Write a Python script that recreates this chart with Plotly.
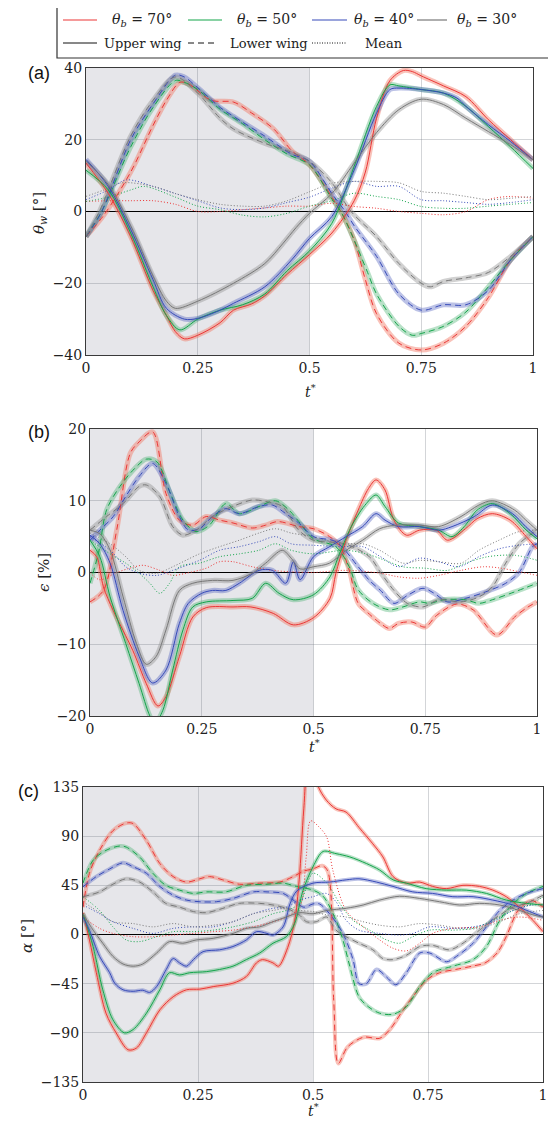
import plotly.graph_objects as go

# page body has an 8px margin: draw at offset, figure slightly smaller than window
OFF = 8
W, H = 540, 1110

# ---------------- data: panel (a)  theta_w [deg] ----------------
a_up_red = [(0,13.5),(0.05,5),(0.1,-7),(0.15,-22),(0.18,-29),(0.2,-33.5),(0.22,-35.5),(0.25,-34.5),(0.3,-31),(0.33,-27.5),(0.37,-25.8),(0.4,-23.5),(0.45,-17.5),(0.5,-12),(0.55,-6),(0.6,3),(0.625,11),(0.65,26),(0.68,36.5),(0.71,39.3),(0.73,39),(0.75,37.8),(0.8,35),(0.85,32),(0.9,25.6),(0.95,20),(1,14.4)]
a_up_green = [(0,11.5),(0.05,6),(0.1,-6),(0.15,-21),(0.18,-29),(0.21,-33),(0.25,-30),(0.3,-27.5),(0.35,-26),(0.4,-23),(0.45,-16.5),(0.5,-11),(0.55,-3.3),(0.6,12.6),(0.65,29.3),(0.68,35.3),(0.7,35),(0.75,34),(0.8,33),(0.85,29.3),(0.9,23.7),(0.95,18),(1,12)]
a_up_blue = [(0,14.5),(0.05,7),(0.1,-5),(0.15,-19),(0.18,-27),(0.22,-30),(0.25,-29.8),(0.3,-27.5),(0.33,-25.6),(0.4,-21),(0.46,-13.5),(0.5,-7.5),(0.55,-1.4),(0.6,11.6),(0.65,27.4),(0.68,34),(0.7,34.4),(0.75,34),(0.8,33),(0.83,31.6),(0.85,29.3),(0.9,24.2),(0.95,19.5),(1,14.4)]
a_up_grey = [(0,14),(0.05,7.5),(0.1,-4),(0.15,-18),(0.18,-25),(0.2,-27),(0.25,-25),(0.33,-20),(0.4,-14.5),(0.44,-9),(0.47,-4.5),(0.5,-0.5),(0.55,5),(0.6,13.5),(0.65,22),(0.7,28.4),(0.75,31.3),(0.8,29.8),(0.85,26),(0.9,22.3),(0.95,18.6),(1,14.4)]

a_lo_red = [(0,-7),(0.04,-1),(0.1,11),(0.15,24),(0.18,31),(0.21,36),(0.23,35.5),(0.28,31),(0.33,30.5),(0.37,27.5),(0.42,23),(0.46,17),(0.5,13),(0.55,4),(0.58,-2.3),(0.6,-8),(0.625,-19),(0.65,-28.5),(0.7,-36.7),(0.75,-38.6),(0.8,-36.7),(0.85,-32),(0.9,-24),(0.95,-13.5),(1,-7)]
a_lo_green = [(0,-7),(0.035,0),(0.1,18),(0.15,29),(0.2,36.5),(0.22,36),(0.25,34),(0.3,28.5),(0.35,24.5),(0.4,20),(0.45,16),(0.5,13),(0.55,3.5),(0.57,0),(0.6,-8),(0.63,-17),(0.65,-23),(0.7,-32),(0.73,-34.5),(0.75,-34),(0.8,-32),(0.85,-28),(0.9,-21),(0.95,-13.5),(1,-7)]
a_lo_blue = [(0,-7),(0.035,0),(0.1,20),(0.15,30),(0.2,38),(0.22,37.5),(0.25,34.5),(0.3,29),(0.33,26.5),(0.4,21),(0.46,16),(0.5,14),(0.55,5),(0.58,0),(0.6,-4),(0.65,-12.5),(0.7,-23),(0.75,-27.5),(0.8,-26),(0.85,-26),(0.9,-22),(0.95,-13.5),(1,-7)]
a_lo_grey = [(0,-7),(0.03,0),(0.1,21),(0.15,31),(0.2,37.5),(0.25,33),(0.3,26),(0.33,23),(0.4,19),(0.45,17),(0.5,14),(0.55,8),(0.593,0),(0.65,-7),(0.7,-14.5),(0.75,-20),(0.77,-21),(0.8,-19.5),(0.85,-18.5),(0.9,-17),(0.95,-12.5),(1,-7)]

a_mean_red = [(0,2.8),(0.05,3),(0.1,3),(0.15,3),(0.2,2),(0.25,0),(0.3,0),(0.35,0.5),(0.4,1),(0.45,1.5),(0.5,1.5),(0.55,2.3),(0.6,1.4),(0.65,0.9),(0.7,0),(0.75,-0.5),(0.8,-0.9),(0.85,0),(0.9,3.3),(0.95,4.2),(1,3.7)]
a_mean_green = [(0,2.8),(0.05,4),(0.1,6),(0.13,7),(0.2,4),(0.25,1.5),(0.3,0.5),(0.35,-1),(0.4,-1.5),(0.45,-0.5),(0.5,1.5),(0.55,3),(0.6,5.1),(0.65,4.2),(0.7,3.3),(0.75,1.4),(0.8,0.9),(0.85,0.9),(0.9,1.5),(0.95,2),(1,2.5)]
a_mean_blue = [(0,3.3),(0.05,6),(0.09,8.8),(0.15,7),(0.2,5),(0.25,3),(0.3,1),(0.35,0.5),(0.4,1),(0.45,2.5),(0.5,4),(0.55,6.5),(0.6,8.4),(0.65,7),(0.7,7),(0.75,3.3),(0.8,3),(0.85,2.5),(0.9,2),(0.95,2.5),(1,3.3)]
a_mean_grey = [(0,4.2),(0.04,6),(0.08,8),(0.15,7),(0.2,5),(0.25,3.3),(0.3,2),(0.35,1.5),(0.4,1.5),(0.45,3),(0.5,5.5),(0.55,7.9),(0.6,8.4),(0.65,8.4),(0.7,8),(0.75,5.6),(0.8,5.1),(0.85,4.2),(0.9,3.3),(0.95,3.7),(1,4.2)]

# ---------------- data: panel (b)  epsilon [%] ----------------
b_up_red = [(0,3.1),(0.015,2.2),(0.03,-2),(0.052,-5.3),(0.096,-10.9),(0.126,-15.5),(0.152,-18.6),(0.17,-17.3),(0.2,-11.7),(0.23,-6.2),(0.26,-4.9),(0.32,-4.8),(0.36,-4.8),(0.41,-5.7),(0.455,-7.3),(0.5,-6.3),(0.537,-3.6),(0.55,-0.1),(0.57,4),(0.6,8.7),(0.623,11.7),(0.64,12.9),(0.66,11.5),(0.68,7.3),(0.708,5.2),(0.737,5.9),(0.775,5.9),(0.8,4.5),(0.84,6.1),(0.866,7.5),(0.9,8.2),(0.94,7.3),(0.976,5),(1,3.3)]
b_up_green = [(0,4.5),(0.022,2.2),(0.045,-3.4),(0.08,-9.9),(0.11,-15.5),(0.134,-20),(0.145,-21),(0.163,-19.2),(0.185,-13.6),(0.208,-8),(0.23,-4.8),(0.26,-4.1),(0.32,-3.9),(0.363,-3.6),(0.393,-1.5),(0.423,-2.9),(0.455,-3.8),(0.5,-3.1),(0.537,-0.6),(0.558,2.6),(0.588,6.8),(0.618,9.6),(0.64,10.8),(0.66,9.2),(0.69,6.9),(0.737,6.4),(0.78,5.9),(0.81,5),(0.84,6.6),(0.866,8.7),(0.9,9.6),(0.94,8.2),(0.976,5.9),(1,4.7)]
b_up_blue = [(0,5.2),(0.022,4),(0.045,1.3),(0.074,-5.3),(0.11,-11.7),(0.14,-15.4),(0.17,-13.6),(0.2,-7.1),(0.22,-4.3),(0.25,-2.9),(0.274,-2.5),(0.304,-2.5),(0.334,-1.5),(0.378,0.3),(0.408,0.3),(0.438,-1.5),(0.455,1.5),(0.47,-1),(0.5,2.2),(0.536,3.6),(0.573,5),(0.61,6.4),(0.64,8.2),(0.66,7.3),(0.69,6.4),(0.737,6.4),(0.78,5.9),(0.81,6.4),(0.86,7.8),(0.9,9.4),(0.945,8.2),(0.975,6.4),(1,5)]
b_up_grey = [(0,5.9),(0.022,5.4),(0.045,3.1),(0.074,-3.4),(0.104,-9.9),(0.126,-12.8),(0.148,-11.7),(0.17,-8),(0.2,-2.5),(0.23,-1.5),(0.274,-1.1),(0.32,-1.1),(0.363,-0.1),(0.393,1.3),(0.43,3.1),(0.45,2),(0.47,0.5),(0.5,0.8),(0.536,1.3),(0.573,3.1),(0.61,4.5),(0.648,6.1),(0.685,6.6),(0.737,6.6),(0.78,6.4),(0.83,7.8),(0.87,9.4),(0.9,10),(0.95,8.7),(0.975,7.3),(1,5.9)]

b_lo_red = [(0,-4.1),(0.03,-2.5),(0.06,6),(0.09,16.6),(0.11,18.2),(0.14,19.6),(0.17,11),(0.2,7.3),(0.23,6.6),(0.26,7.8),(0.29,7.3),(0.32,6.9),(0.363,6.2),(0.393,6.6),(0.42,7.1),(0.467,6.4),(0.5,6.1),(0.536,5),(0.56,3.6),(0.58,0.3),(0.6,-4.3),(0.625,-5.8),(0.65,-7.1),(0.67,-7.8),(0.69,-7.1),(0.72,-6.9),(0.75,-7.6),(0.775,-6),(0.82,-4.4),(0.857,-5.2),(0.91,-8.7),(0.95,-6.2),(0.98,-4.8),(1,-4.1)]
b_lo_green = [(0,-1.5),(0.02,3),(0.037,8.7),(0.067,12),(0.1,14.5),(0.126,15.8),(0.15,15.4),(0.18,11),(0.208,7.3),(0.237,5.7),(0.267,6.6),(0.304,9.6),(0.334,8.2),(0.378,9.2),(0.415,10),(0.445,8.7),(0.467,7.1),(0.5,4.7),(0.55,3.6),(0.58,0.8),(0.6,-2.4),(0.633,-4.3),(0.67,-5.2),(0.7,-4.8),(0.737,-4.1),(0.76,-4.3),(0.79,-3.8),(0.84,-3.8),(0.87,-4.3),(0.9,-3.8),(0.95,-2.7),(1,-1.5)]
b_lo_blue = [(0,4.5),(0.022,5.9),(0.052,7.8),(0.08,10.6),(0.11,13.4),(0.14,15.2),(0.17,12.4),(0.2,7.8),(0.22,5.9),(0.245,6.1),(0.274,7.8),(0.304,8.9),(0.334,8.2),(0.378,9.2),(0.408,9.4),(0.438,8.2),(0.467,6.9),(0.5,5),(0.55,4.3),(0.6,0.8),(0.625,-1.1),(0.65,-2.5),(0.68,-4.3),(0.71,-3.2),(0.745,-2.2),(0.77,-2.9),(0.8,-4.1),(0.84,-3.6),(0.885,-2.7),(0.93,-1.5),(0.96,0),(0.99,3.6),(1,4)]
b_lo_grey = [(0,5.9),(0.037,7.8),(0.074,9.6),(0.11,12),(0.126,12.2),(0.156,10.6),(0.185,6.4),(0.208,5.2),(0.237,5.9),(0.274,7.8),(0.319,9.2),(0.363,10.1),(0.393,9.9),(0.43,9.2),(0.467,5.9),(0.5,4.5),(0.57,4),(0.625,2.2),(0.65,0),(0.68,-2.5),(0.71,-4.3),(0.745,-4.8),(0.78,-3.8),(0.83,-4.1),(0.87,-3.4),(0.9,-2),(0.93,1.3),(0.96,4),(0.99,5.5),(1,5.9)]

b_mean_red = [(0,0),(0.022,-1),(0.06,0),(0.1,0.8),(0.12,1),(0.156,0.3),(0.185,-0.4),(0.215,-0.1),(0.26,0.6),(0.29,1.5),(0.32,1.5),(0.363,0.8),(0.408,0.3),(0.45,0.1),(0.5,0),(0.57,0.3),(0.65,-0.1),(0.69,-0.6),(0.737,-0.8),(0.78,-0.4),(0.83,0.3),(0.88,0.8),(0.92,0.6),(0.96,0.1),(1,-0.4)]
b_mean_green = [(0,4.5),(0.045,2.6),(0.08,1.3),(0.11,-0.1),(0.134,-1.5),(0.156,-2.9),(0.178,-1.5),(0.2,0.8),(0.245,1.3),(0.29,2.2),(0.334,2.6),(0.378,3.1),(0.415,4),(0.45,3.1),(0.5,2.6),(0.57,3.1),(0.618,2.6),(0.66,1.7),(0.7,0.8),(0.75,0.6),(0.8,0.3),(0.84,1.3),(0.89,2.2),(0.95,2.4),(1,1.7)]
b_mean_blue = [(0,5),(0.045,3.1),(0.08,0.8),(0.11,-0.1),(0.15,-0.4),(0.185,0.3),(0.245,1.7),(0.29,3.1),(0.334,3.6),(0.378,4.3),(0.415,5),(0.45,4),(0.5,3.8),(0.56,3.6),(0.61,3.6),(0.65,2.2),(0.69,0.8),(0.737,2),(0.78,1.5),(0.825,0.8),(0.87,2.2),(0.915,3.3),(0.96,3.8),(1,4)]
b_mean_grey = [(0,5.5),(0.045,4),(0.08,2.2),(0.11,0.3),(0.15,-0.1),(0.185,0.8),(0.245,2.6),(0.29,3.6),(0.334,4.5),(0.378,5.5),(0.415,6.1),(0.45,5.5),(0.5,5),(0.56,4),(0.61,4),(0.648,3.1),(0.7,1.3),(0.737,1.7),(0.78,1.5),(0.83,1.3),(0.87,3.1),(0.915,4.5),(0.96,5.7),(1,5.9)]

# ---------------- data: panel (c)  alpha [deg] ----------------
c_up_red = [(0,20),(0.014,-5),(0.029,-35),(0.05,-72),(0.072,-90),(0.098,-105.5),(0.116,-104),(0.138,-90),(0.167,-69),(0.196,-57),(0.225,-50.6),(0.254,-50),(0.283,-47.7),(0.326,-44.6),(0.355,-38.5),(0.377,-26),(0.39,-23),(0.413,-26),(0.425,-29),(0.445,-12),(0.46,12),(0.47,50),(0.48,115),(0.49,160),(0.5,165),(0.51,137),(0.529,123),(0.55,115),(0.572,112),(0.6,98),(0.63,83),(0.652,71),(0.674,53),(0.703,47),(0.732,48),(0.76,44),(0.79,42),(0.826,45),(0.862,44),(0.891,40.6),(0.92,34.6),(0.949,25),(0.978,13),(1,2.6)]
c_up_green = [(0,19),(0.022,-11),(0.043,-50.6),(0.065,-78),(0.09,-90),(0.109,-87),(0.138,-72),(0.167,-50.6),(0.188,-35),(0.21,-37),(0.232,-35),(0.268,-34),(0.297,-32),(0.326,-29),(0.355,-23),(0.384,-17),(0.413,-8),(0.442,-2),(0.46,10),(0.478,40),(0.5,62),(0.522,76),(0.55,74),(0.58,71),(0.616,65),(0.645,59),(0.674,50),(0.703,47),(0.746,42),(0.79,40.6),(0.833,40.6),(0.877,37.6),(0.92,31.5),(0.964,28.5),(1,27)]
c_up_blue = [(0,16),(0.014,4),(0.036,-20),(0.058,-35),(0.069,-44.6),(0.087,-50.6),(0.109,-52),(0.13,-51),(0.145,-53),(0.16,-47.7),(0.181,-32),(0.196,-22),(0.21,-26),(0.225,-29),(0.24,-23),(0.261,-15.7),(0.297,-14),(0.326,-11),(0.355,-5),(0.377,2.6),(0.4,1),(0.413,-0.5),(0.435,7),(0.45,28),(0.465,40),(0.5,47),(0.536,48),(0.572,50),(0.6,51),(0.638,48),(0.674,44),(0.717,39),(0.76,37.6),(0.804,34.6),(0.848,34.6),(0.891,31.5),(0.935,27),(0.971,21),(1,16)]
c_up_grey = [(0,19),(0.022,4),(0.043,-8),(0.065,-20),(0.087,-27),(0.109,-29),(0.13,-27),(0.16,-17),(0.188,-6.5),(0.217,-8),(0.246,-5),(0.283,-3.5),(0.326,1),(0.355,5.6),(0.384,7),(0.413,11.7),(0.442,16),(0.471,20),(0.5,19),(0.53,22),(0.572,24),(0.609,27),(0.645,31.5),(0.688,35),(0.732,33),(0.775,30),(0.819,27),(0.862,28.5),(0.906,27),(0.949,22),(0.978,18),(1,16)]

c_lo_red = [(0,25),(0.014,56),(0.036,77),(0.065,95),(0.094,102),(0.109,101.5),(0.138,86),(0.167,65),(0.196,53),(0.225,48),(0.254,51),(0.275,53),(0.304,50),(0.34,46),(0.384,47),(0.428,48),(0.457,53),(0.48,58),(0.5,60),(0.52,63),(0.532,58),(0.545,-60),(0.555,-118),(0.575,-103),(0.61,-94),(0.645,-95),(0.667,-87),(0.696,-69),(0.717,-57),(0.746,-42),(0.775,-35),(0.81,-32),(0.846,-29),(0.874,-26),(0.9,-17),(0.92,-2),(0.946,22),(0.975,31),(1,25)]
c_lo_green = [(0,47),(0.022,68),(0.05,77),(0.08,81),(0.094,80),(0.123,71),(0.152,56),(0.18,45),(0.21,40.6),(0.24,37.6),(0.268,39),(0.31,39),(0.355,45),(0.4,46),(0.435,47),(0.464,44),(0.5,40.6),(0.522,35),(0.55,13),(0.565,-5),(0.58,-29),(0.6,-57),(0.62,-66),(0.645,-72),(0.674,-73),(0.703,-66),(0.732,-48),(0.76,-35),(0.804,-29),(0.848,-23),(0.877,-11),(0.906,13),(0.935,28),(0.964,37.6),(1,44)]
c_lo_blue = [(0,43.7),(0.029,53),(0.058,60),(0.087,65.6),(0.109,62),(0.138,56),(0.167,44),(0.196,36),(0.225,31.5),(0.254,30),(0.29,30),(0.326,33),(0.37,39),(0.4,39),(0.435,37.6),(0.457,31.5),(0.48,25),(0.5,28),(0.514,28),(0.536,19),(0.565,1),(0.587,-23),(0.6,-45),(0.616,-45),(0.638,-32),(0.66,-39),(0.68,-46),(0.703,-35),(0.732,-17),(0.754,-17),(0.79,-25),(0.812,-20),(0.848,-8),(0.877,7),(0.906,22),(0.935,31.5),(0.964,37.6),(1,42)]
c_lo_grey = [(0,34.6),(0.036,39),(0.065,46),(0.094,51),(0.123,48),(0.152,39),(0.18,28.5),(0.21,25),(0.24,21),(0.268,20),(0.297,23),(0.34,28.5),(0.384,28.5),(0.413,27),(0.442,24),(0.47,18),(0.486,11.7),(0.507,11.7),(0.53,16),(0.55,4),(0.572,-2),(0.6,-8),(0.63,-14),(0.652,-22),(0.674,-23),(0.703,-19),(0.732,-11),(0.76,-10),(0.797,-14),(0.826,-8),(0.862,4),(0.9,16),(0.935,25),(0.964,28.5),(1,36)]

c_mean_red = [(0,16),(0.036,5.6),(0.065,1),(0.109,-2),(0.152,-2),(0.196,-0.5),(0.24,1),(0.283,2.6),(0.326,4),(0.37,7),(0.413,11.7),(0.442,16),(0.471,25),(0.485,70),(0.495,104),(0.514,98),(0.53,89),(0.543,59),(0.572,22),(0.609,7),(0.645,-5),(0.674,-12.6),(0.703,-15),(0.732,-8),(0.76,1),(0.804,5.6),(0.862,7),(0.906,13),(0.949,16),(1,13)]
c_mean_green = [(0,34.6),(0.036,22),(0.065,7),(0.094,-5),(0.123,-6.5),(0.16,-2),(0.196,2.6),(0.24,2.6),(0.283,4),(0.326,7),(0.37,11.7),(0.413,19),(0.442,22),(0.471,28.5),(0.5,56),(0.53,47),(0.558,28.5),(0.587,13),(0.623,4),(0.66,-5),(0.688,-8),(0.717,-2),(0.754,4),(0.804,4),(0.848,5.6),(0.891,13),(0.935,22),(0.978,28.5),(1,34.6)]
c_mean_blue = [(0,27),(0.036,19),(0.065,11.7),(0.109,5.6),(0.152,1),(0.196,5.6),(0.24,7),(0.283,7),(0.326,11.7),(0.37,19),(0.413,24),(0.442,25),(0.471,31.5),(0.5,34.6),(0.529,37.6),(0.55,30),(0.572,13),(0.6,4),(0.645,1),(0.688,-0.5),(0.717,1),(0.754,7),(0.804,5.6),(0.848,7),(0.891,11.7),(0.935,22),(0.978,27),(1,27)]
c_mean_grey = [(0,30),(0.036,20),(0.065,11.7),(0.109,10),(0.152,7),(0.196,10),(0.24,7),(0.283,8.5),(0.326,11.7),(0.37,19),(0.413,22),(0.442,24),(0.471,22),(0.5,21),(0.529,18),(0.572,16),(0.609,11.7),(0.645,8.5),(0.688,7),(0.732,10),(0.775,8.5),(0.819,5.6),(0.862,5.6),(0.906,11.7),(0.949,19),(1,22)]

# ---------------- labels / ticks ----------------
series_names = ["70", "50", "40", "30"]
x_ticks = [0, 0.25, 0.5, 0.75, 1]
x_ticktext = ["0", "0.25", "0.5", "0.75", "1"]
a_yticks = [-40, -20, 0, 20, 40]
b_yticks = [-20, -10, 0, 10, 20]
c_yticks = [-135, -90, -45, 0, 45, 90, 135]

# ---------------- style ----------------
LINE = {"red": "rgb(236,55,55)", "green": "rgb(20,165,75)", "blue": "rgb(55,75,185)", "grey": "rgb(120,120,120)"}
BAND = {"red": "rgba(242,120,100,0.45)", "green": "rgba(70,175,110,0.38)", "blue": "rgba(80,95,190,0.38)", "grey": "rgba(140,140,140,0.40)"}
COLS = ["red", "green", "blue", "grey"]
SERIF = "DejaVu Serif"
SANS = "Liberation Sans"


def px(x):
    return (x - OFF) / W


def py(y):
    return 1 - (y - OFF) / H


panels = [
    dict(sfx="", xr=(86, 533), yr=(68, 355), ylim=(-40, 40), yt=a_yticks, halo=5,
         up=[a_up_red, a_up_green, a_up_blue, a_up_grey],
         lo=[a_lo_red, a_lo_green, a_lo_blue, a_lo_grey],
         mean=[a_mean_red, a_mean_green, a_mean_blue, a_mean_grey]),
    dict(sfx="2", xr=(90, 537), yr=(429, 716), ylim=(-20, 20), yt=b_yticks, halo=5,
         up=[b_up_red, b_up_green, b_up_blue, b_up_grey],
         lo=[b_lo_red, b_lo_green, b_lo_blue, b_lo_grey],
         mean=[b_mean_red, b_mean_green, b_mean_blue, b_mean_grey]),
    dict(sfx="3", xr=(83, 543), yr=(787, 1082), ylim=(-135, 135), yt=c_yticks, halo=4,
         up=[c_up_red, c_up_green, c_up_blue, c_up_grey],
         lo=[c_lo_red, c_lo_green, c_lo_blue, c_lo_grey],
         mean=[c_mean_red, c_mean_green, c_mean_blue, c_mean_grey]),
]

fig = go.Figure()


def xy(pairs):
    return [p[0] for p in pairs], [p[1] for p in pairs]


for p in panels:
    xa, ya = "x" + p["sfx"], "y" + p["sfx"]
    for kind in ("up", "lo"):
        for col, data in zip(COLS, p[kind]):
            x, y = xy(data)
            fig.add_trace(go.Scatter(x=x, y=y, xaxis=xa, yaxis=ya, mode="lines",
                                     line=dict(color=BAND[col], width=p["halo"], shape="spline", smoothing=0.9),
                                     showlegend=False, hoverinfo="skip"))
    for col, data in zip(COLS, p["mean"]):
        x, y = xy(data)
        fig.add_trace(go.Scatter(x=x, y=y, xaxis=xa, yaxis=ya, mode="lines",
                                 line=dict(color=LINE[col], width=1, dash="1px,2px", shape="spline", smoothing=0.9),
                                 showlegend=False))
    for col, data in zip(COLS, p["lo"]):
        x, y = xy(data)
        fig.add_trace(go.Scatter(x=x, y=y, xaxis=xa, yaxis=ya, mode="lines",
                                 line=dict(color=LINE[col], width=1, dash="6px,4px", shape="spline", smoothing=0.9),
                                 showlegend=False))
    for col, data in zip(COLS, p["up"]):
        x, y = xy(data)
        fig.add_trace(go.Scatter(x=x, y=y, xaxis=xa, yaxis=ya, mode="lines",
                                 line=dict(color=LINE[col], width=1, shape="spline", smoothing=0.9),
                                 showlegend=False))

layout = dict(width=W, height=H, margin=dict(l=0, r=0, t=0, b=0, autoexpand=False),
              paper_bgcolor="white", plot_bgcolor="white", showlegend=False,
              font=dict(family=SERIF, size=14, color="#222"))
shapes = []
annotations = []
GRID = "rgba(110,115,125,0.30)"

for i, p in enumerate(panels):
    xk = "xaxis" + p["sfx"]
    yk = "yaxis" + p["sfx"]
    layout[xk] = dict(domain=[px(p["xr"][0]), px(p["xr"][1])], range=[0, 1],
                      anchor="y" + p["sfx"], tickvals=x_ticks, ticktext=x_ticktext,
                      showgrid=True, gridcolor=GRID, gridwidth=1, zeroline=False,
                      showline=True, mirror=True, linecolor="#3a3a3a", linewidth=1,
                      ticks="", tickfont=dict(family=SERIF, size=14, color="#222"))
    layout[yk] = dict(domain=[py(p["yr"][1]), py(p["yr"][0])], range=list(p["ylim"]),
                      anchor="x" + p["sfx"], tickvals=p["yt"],
                      showgrid=True, gridcolor=GRID, gridwidth=1,
                      zeroline=True, zerolinecolor="black", zerolinewidth=1,
                      showline=True, mirror=True, linecolor="#3a3a3a", linewidth=1,
                      ticks="", tickfont=dict(family=SERIF, size=14, color="#222"))
    shapes.append(dict(type="rect", xref="x" + p["sfx"], yref="y" + p["sfx"] + " domain",
                       x0=0, x1=0.5, y0=0, y1=1, fillcolor="#e6e6ea", line=dict(width=0), layer="below"))


def ann(text, x, y, font, xanchor="center", angle=0):
    annotations.append(dict(text=text, x=px(x), y=py(y), xref="paper", yref="paper",
                            xanchor=xanchor, yanchor="middle", textangle=angle,
                            showarrow=False, font=font))


for lab, (x, y) in zip(["(a)", "(b)", "(c)"], [(39, 73), (39, 432), (28, 791)]):
    ann(lab, x, y, dict(family=SANS, size=18, color="#111"))
for lab, (x, y) in zip(["<i>θ<sub>w</sub></i> [°]", "<i>ϵ</i> [%]", "<i>α</i> [°]"],
                       [(39, 213), (44, 573), (27, 936)]):
    ann(lab, x, y, dict(family=SERIF, size=15, color="#222"), angle=-90)
for (x, y) in [(310, 391), (314, 746), (313, 1110)]:
    ann("<i>t</i><sup>*</sup>", x, y, dict(family=SERIF, size=14, color="#222"))

# legend box (right edge runs off the page)
shapes.append(dict(type="rect", xref="paper", yref="paper", x0=px(57), x1=px(570), y0=py(58), y1=py(5),
                   line=dict(color="#333", width=1.2), fillcolor="white", layer="above"))
row1 = [(63, 97, 110), (188, 222, 235), (312, 347, 352), (417, 447, 455)]
for (x0, x1, tx), col, nm in zip(row1, COLS, series_names):
    shapes.append(dict(type="line", xref="paper", yref="paper", x0=px(x0), x1=px(x1), y0=py(20), y1=py(20),
                       line=dict(color=LINE[col], width=1.2)))
    ann("<i>θ<sub>b</sub></i> = " + nm + "°", tx, 20, dict(family=SERIF, size=14, color="#222"), xanchor="left")
row2 = [(63, 97, 102, "solid", "Upper wing"), (188, 218, 228, "6px,4px", "Lower wing"), (312, 347, 363, "1px,1.5px", "Mean")]
for x0, x1, tx, dash, nm in row2:
    shapes.append(dict(type="line", xref="paper", yref="paper", x0=px(x0), x1=px(x1), y0=py(43), y1=py(43),
                       line=dict(color="#111", width=1, dash=dash)))
    ann(nm, tx, 43, dict(family=SERIF, size=13, color="#222"), xanchor="left")

layout["shapes"] = shapes
layout["annotations"] = annotations
fig.update_layout(**layout)
fig.write_html("out.html")
